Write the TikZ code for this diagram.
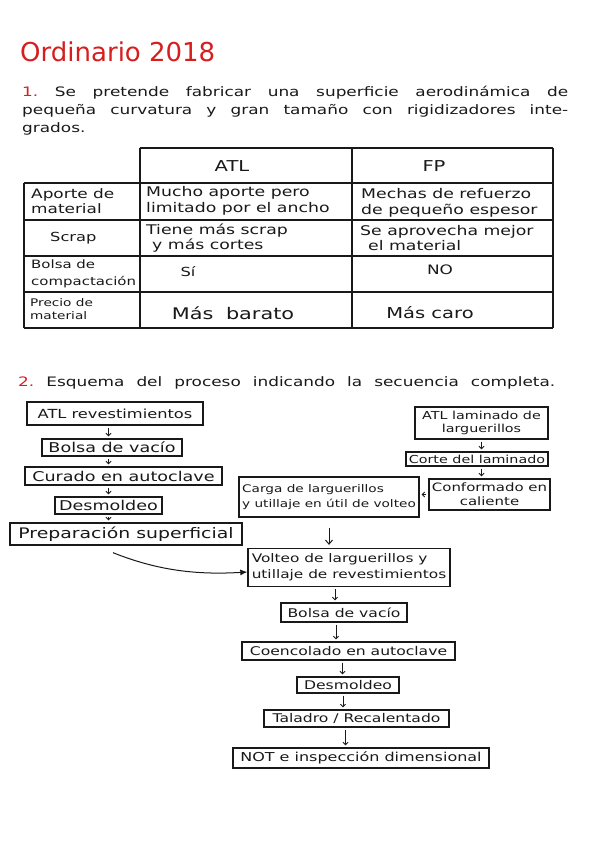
\documentclass[tikz,border=0pt]{standalone}
\usepackage{fontspec}
\setmainfont{DejaVu Sans}
\newfontfamily\handfont[FakeStretch=1.3]{DejaVu Sans}
\usepackage{xcolor}
\usepackage{tikz}
\usetikzlibrary{positioning, arrows.meta}

\definecolor{penred}{RGB}{214,30,30}
\definecolor{ink}{RGB}{25,25,25}
\newcommand\handsz[2]{\handfont\fontsize{#1}{#2}\selectfont}

\begin{document}
\begin{tikzpicture}[x=1pt, y=-1pt,
    stage/.style = {draw=ink, line width=1.35pt, inner xsep=3pt, inner ysep=1pt,
                    align=center, text=ink, font=\handsz{12}{14}},
    cell/.style  = {anchor=west, align=left, inner sep=0pt, text=ink,
                    font=\handsz{13.3}{15.5}},
    head/.style  = {inner sep=0pt, text=ink, font=\handsz{15}{18}},
    para/.style  = {inner sep=0pt, text=ink, font=\handsz{13}{18}},
    rule/.style  = {ink, line width=1.2pt},
    flow/.style  = {-{Straight Barb[length=2.5pt,width=5pt]}, ink, line width=0.9pt,
                    shorten <=2pt, shorten >=2pt},
    drop/.style  = {-{Straight Barb[length=4pt,width=7pt]}, ink, line width=1pt},
    sweep/.style = {-{Latex[length=7pt,width=6pt]}, ink, line width=1pt},
  ]
    \fill[white] (0,0) rectangle (599,848);
    \useasboundingbox (0,0) rectangle (599,848);

    % --- heading and question 1 ---
    \node[anchor=base west, inner sep=0pt, text=penred, font=\fontsize{26}{30}\selectfont]
        (title) at (20,62) {Ordinario 2018};
    \node[para, anchor=north west, text width=546, align=justify] (q1) at (22,86)
        {\noindent\textcolor{penred}{1.}\ Se pretende fabricar una superficie aerodinámica de\linebreak
         pequeña curvatura y gran tamaño con rigidizadores inte-\linebreak grados.};

    % --- table grid ---
    \draw[rule] (140,148) -- (553,148);
    \foreach \y in {183,220,256,292,328}
        \draw[rule] (24,\y) -- (553,\y);
    \draw[rule] (24,183) -- (24,328);
    \foreach \x in {140,352,553}
        \draw[rule] (\x,148) -- (\x,328);

    % --- table header ---
    \node[head] (hatl) at (232,166) {ATL};
    \node[head] (hfp)  at (434,166) {FP};

    % --- table rows ---
    \node[cell, font=\handsz{13}{15.5}] (a1) at (31,201)  {Aporte de\\material};
    \node[cell] (a2) at (146,201) {Mucho aporte pero\\limitado por el ancho};
    \node[cell] (a3) at (361,203) {Mechas de refuerzo\\de pequeño espesor};

    \node[cell, font=\handsz{12.5}{15}] (b1) at (50,238) {Scrap};
    \node[cell] (b2) at (146,238) {Tiene más scrap\\\hspace*{6pt}y más cortes};
    \node[cell] (b3) at (360,238) {Se aprovecha mejor\\\hspace*{8pt}el material};

    \node[cell, font=\handsz{11.5}{17}] (c1) at (31,274) {Bolsa de\\compactación};
    \node[head, font=\handsz{12.5}{15}] (c2) at (188,272) {Sí};
    \node[head, font=\handsz{13}{15}]   (c3) at (440,270) {NO};

    \node[cell, font=\handsz{10.5}{13}] (d1) at (30,309) {Precio de\\material};
    \node[head, font=\handsz{16}{18}]   (d2) at (233,313) {Más\hspace{6pt} barato};
    \node[head, font=\handsz{15}{18}]   (d3) at (430,313) {Más caro};

    % --- question 2 ---
    \node[para, anchor=west] (q2) at (18,383)
        {\hbox to 537pt{\textcolor{penred}{2.}\ Esquema del proceso indicando la secuencia completa.}};

    % --- skin line ---
    \node[stage, minimum width=176, minimum height=23, font=\handsz{12.5}{14}] (l1) at (115,413.5) {ATL revestimientos};
    \node[stage, minimum width=140, minimum height=17, font=\handsz{13.5}{15}] (l2) at (112,447.5) {Bolsa de vacío};
    \node[stage, minimum width=197, minimum height=18, font=\handsz{13.5}{15}] (l3) at (123.5,476) {Curado en autoclave};
    \node[stage, minimum width=107, minimum height=17, font=\handsz{13.5}{15}] (l4) at (108.5,505.5) {Desmoldeo};
    \node[stage, minimum width=232, minimum height=22, font=\handsz{14.5}{16}] (l5) at (126,534) {Preparación superficial};

    % --- stringer line ---
    \node[stage, minimum width=133, minimum height=32, font=\handsz{11}{13}] (r1) at (481.5,423) {ATL laminado de\\larguerillos};
    \node[stage, minimum width=142, minimum height=14, font=\handsz{11}{13}] (r2) at (477,459) {Corte del laminado};
    \node[stage, minimum width=121, minimum height=31, font=\handsz{11.5}{14}] (r3) at (489.5,494.5) {Conformado en\\caliente};
    \node[stage, minimum width=174, minimum height=40, align=left, font=\handsz{10.5}{15}] (r4) at (329,497) {Carga de larguerillos\\y utillaje en útil de volteo};

    % --- assembly line ---
    \node[stage, minimum width=202, minimum height=38, align=left, font=\handsz{11.8}{16}] (v1) at (349,567.5) {Volteo de larguerillos y\\utillaje de revestimientos};
    \node[stage, minimum width=126, minimum height=19] (v2) at (344,612.5) {Bolsa de vacío};
    \node[stage, minimum width=213, minimum height=18] (v3) at (348.5,651) {Coencolado en autoclave};
    \node[stage, minimum width=102, minimum height=16] (v4) at (348,685) {Desmoldeo};
    \node[stage, minimum width=185, minimum height=17] (v5) at (356.5,718.5) {Taladro / Recalentado};
    \node[stage, minimum width=256, minimum height=20, font=\handsz{12.3}{14}] (v6) at (361,758) {NOT e inspección dimensional};

    % --- arrows ---
    \draw[flow] (l1.south -| l4) -- (l2.north -| l4);
    \draw[flow] (l2.south -| l4) -- (l3.north -| l4);
    \draw[flow] (l3.south -| l4) -- (l4.north);
    \draw[flow] (l4.south) -- (l5.north -| l4);

    \draw[flow] (r1) -- (r1 |- r2.north);
    \draw[flow] (r2.south -| r1) -- (r3.north -| r1);
    \draw[flow] (r3) -- (r3 -| r4.east);
    \draw[drop, shorten <=10pt, shorten >=3pt] (r4) -- (r4 |- v1.north);

    \draw[sweep] ([xshift=-13pt, yshift=-7pt]l5.south)
        .. controls +(45,18) and +(-50,3) .. ([yshift=-4.5pt]v1.west);

    \draw[flow] ([xshift=-14pt]v1.south) -- ([xshift=-14pt]v1.south |- v2.north);
    \draw[flow] ([xshift=-8pt]v2.south) -- ([xshift=-8pt]v2.south |- v3.north);
    \draw[flow] ([xshift=-6pt]v3.south) -- ([xshift=-6pt]v3.south |- v4.north);
    \draw[flow] ([xshift=-5pt]v4.south) -- ([xshift=-5pt]v4.south |- v5.north);
    \draw[flow] ([xshift=-11pt]v5.south) -- ([xshift=-11pt]v5.south |- v6.north);
\end{tikzpicture}
\end{document}
